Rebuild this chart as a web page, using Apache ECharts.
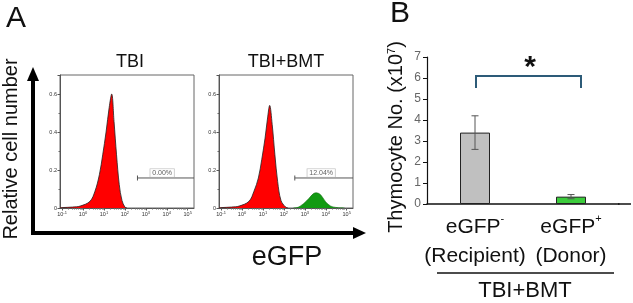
<!DOCTYPE html>
<html>
<head>
<meta charset="utf-8">
<script src="https://cdn.jsdelivr.net/npm/echarts@6/dist/echarts.min.js"></script>
<style>
  html, body { margin: 0; padding: 0; background: #fff; }
  #main { width: 633px; height: 303px; }
</style>
</head>
<body>
<div id="main"></div>
<script>
// panel A: histograms (x = log10 of eGFP intensity, y = relative cell number)
var tbiLog = [-1.1, -1, -0.5, -0.14, 0.33, 0.57, 0.78, 0.94, 1.1, 1.25, 1.37, 1.48, 1.6, 1.73, 1.86, 2.0, 2.1];
var tbiCount = [0, 0.002, 0.005, 0.01, 0.035, 0.088, 0.175, 0.28, 0.40, 0.53, 0.6, 0.456, 0.28, 0.123, 0.04, 0.005, 0];
var bmtRedLog = [-1.1, -1, -0.5, -0.14, 0.33, 0.57, 0.78, 0.94, 1.1, 1.22, 1.32, 1.44, 1.57, 1.7, 1.86, 2.08, 2.2];
var bmtRedCount = [0, 0.002, 0.005, 0.01, 0.035, 0.088, 0.158, 0.254, 0.368, 0.474, 0.54, 0.44, 0.28, 0.14, 0.04, 0.005, 0];
var bmtGreenLog = [2.45, 2.63, 2.95, 3.19, 3.4, 3.54, 3.75, 3.99, 4.22, 4.54, 4.9];
var bmtGreenCount = [0, 0.002, 0.024, 0.05, 0.075, 0.08, 0.07, 0.033, 0.011, 0.002, 0];
var decades = [-1, 0, 1, 2, 3, 4, 5];
var histTitles = ['TBI', 'TBI+BMT'];
var gateStart = [2.6, 2.52];
var gateLevel = [0.158, 0.158];
var gateLabel = ['0.00%', '12.04%'];

// panel B: thymocyte numbers (x10^7)
var groups = ['eGFP-', 'eGFP+'];
var groupSub = ['(Recipient)', '(Donor)'];
var thymo = [3.4, 0.35];
var thymoLow = [2.6, 0.25];
var thymoHigh = [4.2, 0.45];

var FONT = '"Liberation Sans", Arial, sans-serif';
var XMIN = -1.1, XMAX = 5.3;

function pairs(xs, ys) {
    var res = [];
    for (var i = 0; i < xs.length; i++) res.push([xs[i], ys[i]]);
    return res;
}
var minorVals = [];
for (var d = -1; d < 5; d++) {
    for (var k = 2; k < 10; k++) minorVals.push(d + Math.log10(k));
}

var chart = echarts.init(document.getElementById('main'));

var grids = [
    {left: 60, top: 75, width: 134, height: 133, show: true, borderColor: '#666', borderWidth: 1},
    {left: 219, top: 75, width: 134, height: 133, show: true, borderColor: '#666', borderWidth: 1},
    {left: 427, top: 57, width: 192, height: 147}
];

var xAxes = [], yAxes = [];
for (var g = 0; g < 2; g++) {
    xAxes.push({
        gridIndex: g, type: 'value', min: XMIN, max: XMAX,
        splitLine: {show: false},
        axisLine: {show: true, onZero: false, lineStyle: {color: '#555', width: 1}},
        axisTick: {show: true, length: 2.5, customValues: decades, lineStyle: {color: '#555'}},
        axisLabel: {
            customValues: decades, margin: 3, color: '#333',
            formatter: function (v) { return '{b|10}{s|' + Math.round(v) + '}'; },
            rich: {b: {fontSize: 5.5, fontFamily: FONT, color: '#333'}, s: {fontSize: 4, fontFamily: FONT, color: '#333', verticalAlign: 'top'}}
        }
    });
    // minor ticks
    xAxes.push({
        gridIndex: g, type: 'value', min: XMIN, max: XMAX, position: 'bottom',
        splitLine: {show: false}, axisLine: {show: false, onZero: false},
        axisTick: {show: true, length: 1.5, customValues: minorVals, lineStyle: {color: '#666'}},
        axisLabel: {show: false}
    });
    yAxes.push({
        gridIndex: g, type: 'value', min: 0, max: 0.7, interval: 0.2,
        splitLine: {show: false},
        axisLine: {show: true, onZero: false, lineStyle: {color: '#555', width: 1}},
        axisTick: {show: true, length: 2.5, lineStyle: {color: '#555'}},
        minorTick: {show: true, splitNumber: 2, length: 1.5, lineStyle: {color: '#666'}},
        axisLabel: {
            fontSize: 5.5, fontFamily: FONT, color: '#333', margin: 3, showMaxLabel: false,
            formatter: function (v) { return v === 0 ? '0' : v.toFixed(1); }
        }
    });
}
xAxes.push({
    gridIndex: 2, type: 'category', data: groups,
    axisLine: {show: true, lineStyle: {color: '#111', width: 1.5}},
    axisTick: {show: false},
    axisLabel: {
        interval: 0, margin: 9, lineHeight: 29,
        formatter: function (v, i) {
            return '{m|' + v.slice(0, 4) + '}{s|' + v.slice(4) + '}\n{m|' + groupSub[i] + '}';
        },
        rich: {
            m: {fontSize: 21, fontFamily: FONT, color: '#111', lineHeight: 29},
            s: {fontSize: 11, fontFamily: FONT, color: '#111', verticalAlign: 'top', lineHeight: 29, padding: [0, 0, 10, 0]}
        }
    }
});
yAxes.push({
    gridIndex: 2, type: 'value', min: 0, max: 7, interval: 1,
    splitLine: {show: false},
    axisLine: {show: true, lineStyle: {color: '#111', width: 1.2}},
    axisTick: {show: true, length: 4, lineStyle: {color: '#111'}},
    axisLabel: {fontSize: 12, fontFamily: FONT, color: '#666', margin: 6}
});

var series = [
    {
        type: 'line', xAxisIndex: 0, yAxisIndex: 0, data: pairs(tbiLog, tbiCount),
        smooth: 0.35, symbol: 'none', lineStyle: {color: '#222', width: 0.8},
        areaStyle: {color: '#ff0000', opacity: 1}, silent: true, z: 3
    },
    {
        type: 'line', xAxisIndex: 2, yAxisIndex: 1, data: pairs(bmtRedLog, bmtRedCount),
        smooth: 0.35, symbol: 'none', lineStyle: {color: '#222', width: 0.8},
        areaStyle: {color: '#ff0000', opacity: 1}, silent: true, z: 3
    },
    {
        type: 'line', xAxisIndex: 2, yAxisIndex: 1, data: pairs(bmtGreenLog, bmtGreenCount),
        smooth: 0.35, symbol: 'none', lineStyle: {color: '#0a6a0a', width: 0.6},
        areaStyle: {color: '#129a12', opacity: 1}, silent: true, z: 3
    }
];
for (var p = 0; p < 2; p++) {
    series.push({
        type: 'line', xAxisIndex: p * 2, yAxisIndex: p, silent: true, z: 4,
        data: [
            {value: [gateStart[p], gateLevel[p]], symbol: 'rect', symbolSize: [1, 5]},
            {value: [XMAX, gateLevel[p]], symbol: 'none'}
        ],
        lineStyle: {color: '#555', width: 1}, itemStyle: {color: '#555'}
    });
    series.push({
        type: 'scatter', xAxisIndex: p * 2, yAxisIndex: p, silent: true, z: 5,
        symbolSize: 0,
        data: [[3.78, gateLevel[p]]],
        label: {
            show: true, position: 'top', distance: 1, formatter: gateLabel[p],
            fontSize: 7, fontFamily: FONT, color: '#333',
            backgroundColor: '#fff', borderColor: '#aaa', borderWidth: 0.6, padding: [1, 2, 0, 2]
        }
    });
}
series.push({
    type: 'bar', xAxisIndex: 4, yAxisIndex: 2, barWidth: 30,
    data: [
        {value: thymo[0], itemStyle: {color: '#c0c0c0', borderColor: '#222', borderWidth: 1}},
        {value: thymo[1], itemStyle: {color: '#3ccc3c', borderColor: '#222', borderWidth: 1}}
    ]
});
series.push({
    type: 'custom', xAxisIndex: 4, yAxisIndex: 2, z: 10,
    data: groups.map(function (c, i) { return [i, thymoLow[i], thymoHigh[i]]; }),
    renderItem: function (params, api) {
        var lo = api.coord([api.value(0), api.value(1)]);
        var hi = api.coord([api.value(0), api.value(2)]);
        var st = {stroke: '#555', lineWidth: 1};
        return {
            type: 'group', children: [
                {type: 'line', shape: {x1: lo[0], y1: lo[1], x2: hi[0], y2: hi[1]}, style: st},
                {type: 'line', shape: {x1: lo[0] - 3.5, y1: lo[1], x2: lo[0] + 3.5, y2: lo[1]}, style: st},
                {type: 'line', shape: {x1: hi[0] - 3.5, y1: hi[1], x2: hi[0] + 3.5, y2: hi[1]}, style: st}
            ]
        };
    }
});

function txt(x, y, text, size, extra) {
    var o = {
        type: 'text', x: x, y: y, silent: true,
        style: {text: text, fontSize: size, fontFamily: FONT, fill: '#111', align: 'center', verticalAlign: 'middle'}
    };
    for (var key in (extra || {})) o[key] = extra[key];
    return o;
}

var yTitle = txt(396, 137, '{m|Thymocyte No. (x10}{s|7}{m|)}', 20, {rotation: Math.PI / 2});
yTitle.style.rich = {
    m: {fontSize: 20, fontFamily: FONT, fill: '#111'},
    s: {fontSize: 11, fontFamily: FONT, fill: '#111', verticalAlign: 'top', padding: [0, 0, 9, 0]}
};
var star = txt(530, 68, '*', 30);
star.style.fontWeight = 'bold';

var elements = [
    txt(16, 19, 'A', 30),
    txt(400, 14, 'B', 30),
    txt(130, 62, histTitles[0], 18),
    txt(286, 62, histTitles[1], 18),
    txt(11, 149, 'Relative cell number', 20, {rotation: Math.PI / 2}),
    txt(287, 258, 'eGFP', 27),
    // big arrows
    {type: 'line', silent: true, shape: {x1: 33, y1: 235, x2: 33, y2: 78}, style: {stroke: '#000', lineWidth: 4}},
    {type: 'polygon', silent: true, shape: {points: [[27, 81], [39, 81], [33, 67]]}, style: {fill: '#000'}},
    {type: 'line', silent: true, shape: {x1: 31, y1: 233, x2: 356, y2: 233}, style: {stroke: '#000', lineWidth: 4}},
    {type: 'polygon', silent: true, shape: {points: [[353, 227], [353, 239], [366, 233]]}, style: {fill: '#000'}},
    // baseline extension, group line and label
    {type: 'line', silent: true, shape: {x1: 618, y1: 204, x2: 631, y2: 204}, style: {stroke: '#111', lineWidth: 1.5}},
    {type: 'line', silent: true, shape: {x1: 437, y1: 273, x2: 614, y2: 273}, style: {stroke: '#111', lineWidth: 1.5}},
    txt(525, 291, 'TBI+BMT', 22),
    // significance bracket
    {type: 'polyline', silent: true, shape: {points: [[476, 88], [476, 76], [581, 76], [581, 88]]}, style: {stroke: '#2d5b78', lineWidth: 2}},
    star,
    yTitle
];

chart.setOption({
    animation: false,
    grid: grids,
    xAxis: xAxes,
    yAxis: yAxes,
    series: series,
    graphic: {elements: elements}
});
</script>
</body>
</html>
